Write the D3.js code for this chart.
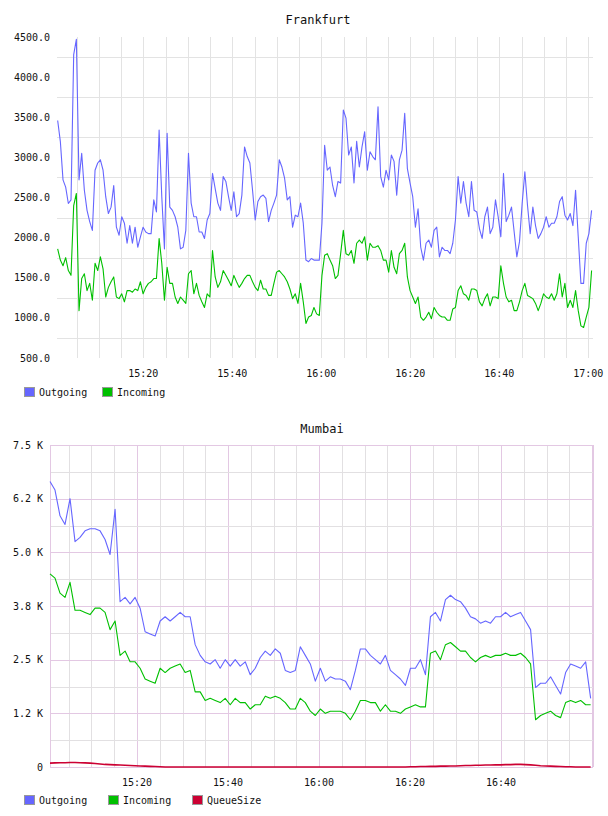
<!DOCTYPE html>
<html>
<head>
<meta charset="utf-8">
<script src="https://cdn.jsdelivr.net/npm/d3@7"></script>
<style>
    body { margin: 0; background: #ffffff; }
    svg text { font-family: "DejaVu Sans Mono", monospace; font-size: 10px; fill: #111; }
</style>
</head>
<body>
<svg id="chart" width="608" height="816"></svg>
<script>
// ---- Frankfurt data (one sample every 36 s) ----
const frankfurtStart = "15:00:45";
const frankfurtStepSeconds = 36;
const frankfurtOutgoing = [
    3460, 3200, 2720, 2630, 2425, 2470, 4280, 4470, 2720, 3050, 2590, 2340, 2200, 2090, 2840, 2930, 2970, 2840, 2510, 2300,
    2380, 2650, 2130, 2030, 2260, 2180, 1930, 2150, 1930, 2130, 1880, 2010, 2130, 2070, 2050, 2050, 2470, 2320, 3340, 2510,
    1860, 3300, 2380, 2340, 2260, 2130, 1860, 1880, 2090, 3050,
    2430, 2260, 2260, 2070, 2070, 1990, 2220, 2300, 2800, 2610, 2430, 2340, 2760, 2700, 2510, 2340, 2570, 2260, 2300, 2530,
    3130, 3010, 2930, 2590, 2220, 2450, 2510, 2530, 2490, 2200, 2340, 2430, 2530, 2970, 2880, 2740, 2470, 2510, 2130, 2280,
    2260, 2430, 2180, 1720, 1700, 1740, 1720, 1720, 1720, 2180, 3150,
    2840, 2880, 2650, 2510, 2700, 2680, 3590, 3490, 3030, 3130, 2680, 3200, 2880, 3130, 3320, 2840, 3070, 3010, 2970, 3630,
    2760, 2630, 2840, 2720, 3030, 2950, 2530, 2970, 3090, 3550, 2860, 2680, 2510, 2130, 2360, 1880, 1720, 1930, 1970, 1880,
    2090, 2130, 1760, 1880, 1840, 1840, 1800, 1930, 2220, 2760,
    2430, 2700, 2430, 2260, 2700, 2340, 2320, 2110, 1990, 2260, 2380, 2050, 2130, 2470, 2260, 2010, 2800, 2200, 2280, 2380,
    2070, 1760, 1950, 2430, 2820, 2400, 2050, 2380, 2150, 1990, 2050, 2130, 2260, 2130, 2180, 2180, 2260, 2450, 2510, 2280,
    2220, 2300, 2150, 2590, 2010, 1430, 1430, 1930, 2050, 2340
];
const frankfurtIncoming = [
    1860, 1720, 1650, 1750, 1590, 1530, 2400, 2550, 1090, 1490, 1550, 1340, 1430, 1220, 1680, 1590, 1760, 1610, 1260, 1380,
    1450, 1510, 1260, 1240, 1300, 1200, 1340, 1340, 1320, 1360, 1340, 1450, 1300, 1380, 1430, 1450, 1490, 1490, 1990, 1680,
    1220, 1630, 1430, 1430, 1260, 1180, 1260, 1220, 1180, 1550,
    1590, 1300, 1430, 1280, 1200, 1130, 1300, 1260, 1840, 1510, 1380, 1450, 1590, 1530, 1470, 1400, 1530, 1450, 1380, 1430,
    1490, 1530, 1530, 1450, 1380, 1340, 1470, 1360, 1360, 1280, 1280, 1430, 1570, 1590, 1550, 1510, 1450, 1360, 1240, 1300,
    1180, 1430, 1200, 930, 1010, 1030, 1130, 1050, 1030, 1530, 1780,
    1800, 1720, 1650, 1490, 1530, 1800, 2090, 1800, 1780, 1840, 1680, 1930, 1970, 1930, 2010, 1720, 1930, 1880, 1880, 1900,
    1840, 1720, 1720, 1570, 1840, 1630, 1550, 1800, 1840, 1930, 1510, 1340, 1260, 1180, 1260, 1010, 970, 1010, 1070, 990,
    1130, 1070, 1030, 1010, 1010, 970, 970, 1110, 1130, 1340,
    1400, 1300, 1280, 1220, 1360, 1360, 1340, 1200, 1150, 1240, 1300, 1150, 1260, 1260, 1240, 1650, 1430, 1260, 1200, 1220,
    1090, 1090, 1200, 1340, 1430, 1280, 1260, 1240, 1180, 1090, 1180, 1300, 1260, 1240, 1300, 1220, 1300, 1550, 1260, 1430,
    1130, 1220, 1130, 1340, 1090, 900, 880, 1010, 1130, 1590
];
const frankfurtYTicks = [500, 1000, 1500, 2000, 2500, 3000, 3500, 4000, 4500];
const frankfurtYGrid = [750, 1250, 1750, 2250, 2750, 3250, 3750, 4250];
const frankfurtXTicks = ["15:20", "15:40", "16:00", "16:20", "16:40", "17:00"];

// ---- Mumbai data (one sample every 66 s) ----
const mumbaiStart = "15:00:53";
const mumbaiStepSeconds = 66;
const mumbaiOutgoing = [
    6650, 6450, 5850, 5650, 6250, 5250, 5350, 5500, 5550, 5550, 5500, 5300, 4950, 6000, 3850, 3950, 3800, 3950, 3700, 3150,
    3100, 3050, 3400, 3500, 3400, 3500, 3600, 3500, 3500, 2850, 2600, 2450, 2400, 2500, 2300, 2500, 2350, 2500, 2350, 2450,
    2150, 2300, 2550, 2700, 2600, 2750, 2650, 2250, 2200, 2250, 2800, 2600, 2400, 2000, 2300, 2000, 2100, 2050, 2050, 2000,
    1800, 2250, 2750, 2750, 2600, 2500, 2400, 2600, 2250, 2150, 2050, 1900, 2300, 2300, 2500, 2150, 3500, 3600, 3400, 3900,
    4000, 3900, 3850, 3700, 3500, 3450, 3350, 3400, 3350, 3500, 3500, 3600, 3500, 3550, 3600, 3400, 3200, 1850, 1950, 1950,
    2100, 1900, 1700, 2200, 2400, 2350, 2300, 2450, 1600
];
const mumbaiIncoming = [
    4500, 4400, 4050, 3950, 4300, 3650, 3650, 3600, 3550, 3700, 3700, 3600, 3200, 3400, 2600, 2700, 2450, 2450, 2300, 2050,
    2000, 1950, 2300, 2200, 2300, 2350, 2400, 2200, 2250, 1750, 1750, 1550, 1600, 1550, 1500, 1600, 1450, 1600, 1500, 1500,
    1350, 1450, 1450, 1650, 1600, 1650, 1600, 1500, 1350, 1350, 1600, 1500, 1300, 1200, 1350, 1250, 1300, 1300, 1300, 1250,
    1100, 1300, 1550, 1550, 1500, 1500, 1300, 1450, 1300, 1300, 1250, 1350, 1400, 1450, 1400, 1400, 2650, 2700, 2500, 2850,
    2900, 2800, 2700, 2700, 2550, 2450, 2550, 2600, 2550, 2600, 2600, 2650, 2600, 2600, 2650, 2550, 2400, 1100, 1200, 1250,
    1300, 1200, 1150, 1500, 1550, 1500, 1550, 1450, 1450
];
const mumbaiQueueSize = [
    90, 95, 100, 100, 105, 105, 100, 95, 90, 80, 70, 60, 55, 50, 45, 40, 35, 30, 25, 20,
    15, 10, 5, 0, 0, 0, 0, 0, 0, 0, 0, 0, 0, 0, 0, 0, 0, 0, 0, 0,
    0, 0, 0, 0, 0, 0, 0, 0, 0, 0, 0, 0, 0, 0, 0, 0, 0, 0, 0, 0,
    0, 0, 0, 0, 0, 0, 0, 0, 0, 0, 0, 0, 5, 5, 10, 10, 15, 15, 20, 20,
    25, 25, 30, 35, 35, 40, 40, 45, 45, 50, 50, 55, 55, 60, 60, 55, 50, 40, 30, 25,
    20, 15, 10, 5, 5, 0, 0, 0, 0
];
const mumbaiYTicks = [0, 1250, 2500, 3750, 5000, 6250, 7500];
const mumbaiYTickLabels = ["0", "1.2 K", "2.5 K", "3.8 K", "5.0 K", "6.2 K", "7.5 K"];
const mumbaiYMinorGrid = [625, 1875, 3125, 4375, 5625, 6875];
const mumbaiXTicks = ["15:20", "15:40", "16:00", "16:20", "16:40"];

const colorOutgoing = "#6666ff";
const colorIncoming = "#00c000";
const colorQueue = "#cc0033";

let svg = d3.select("#chart");
let parseTime = d3.timeParse("%H:%M:%S");
let parseTick = d3.timeParse("%H:%M");

function seriesPoints(start, stepSeconds, values) {
    let t0 = parseTime(start);
    return values.map((v, i) => ({ time: d3.timeSecond.offset(t0, i * stepSeconds), value: v }));
}

function drawPanel(p) {
    let x = d3.scaleTime()
        .domain([parseTime(p.xStart), parseTime(p.xEnd)])
        .range([p.left, p.right]);
    let y = d3.scaleLinear()
        .domain(p.yDomain)
        .range([p.bottom, p.top]);

    let g = svg.append("g");
    let grid = g.append("g").attr("shape-rendering", "crispEdges");

    // vertical grid, every 5 minutes
    let minuteLines = d3.timeMinute.every(5).range(x.domain()[0], x.domain()[1]);
    grid.selectAll("line.vgrid")
        .data(minuteLines)
        .enter()
        .append("line")
        .attr("x1", d => Math.round(x(d)) + 0.5)
        .attr("x2", d => Math.round(x(d)) + 0.5)
        .attr("y1", p.top)
        .attr("y2", p.bottom)
        .style("stroke", d => (p.majorColor && d.getMinutes() % 20 === 0) ? p.majorColor : p.gridColor);

    // horizontal grid
    grid.selectAll("line.hgrid")
        .data(p.yGrid)
        .enter()
        .append("line")
        .attr("x1", p.left)
        .attr("x2", p.right)
        .attr("y1", d => Math.round(y(d)) + 0.5)
        .attr("y2", d => Math.round(y(d)) + 0.5)
        .style("stroke", p.gridColor);

    if (p.majorColor) {
        grid.selectAll("line.hmajor")
            .data(p.yTicks)
            .enter()
            .append("line")
            .attr("x1", p.left)
            .attr("x2", p.right)
            .attr("y1", d => Math.round(y(d)) + 0.5)
            .attr("y2", d => Math.round(y(d)) + 0.5)
            .style("stroke", p.majorColor);

        // left and right frame
        [p.left, p.right].forEach(px => {
            grid.append("line")
                .attr("x1", px + 0.5).attr("x2", px + 0.5)
                .attr("y1", p.top).attr("y2", p.bottom)
                .style("stroke", p.majorColor);
        });
    }

    // data lines
    let line = d3.line()
        .x(d => x(d.time))
        .y(d => y(d.value));

    p.series.forEach(s => {
        g.append("path")
            .datum(seriesPoints(p.start, p.step, s.values))
            .attr("fill", "none")
            .attr("stroke", s.color)
            .attr("stroke-width", s.width || 1.1)
            .attr("stroke-linejoin", "round")
            .attr("d", line);
    });

    // y labels
    g.selectAll("text.ylab")
        .data(p.yTicks)
        .enter()
        .append("text")
        .attr("x", p.left - 7)
        .attr("y", d => y(d))
        .attr("dy", "0.35em")
        .attr("text-anchor", "end")
        .text((d, i) => p.yLabels ? p.yLabels[i] : d3.format(".1f")(d));

    // x labels
    g.selectAll("text.xlab")
        .data(p.xTicks)
        .enter()
        .append("text")
        .attr("x", d => x(parseTick(d)))
        .attr("y", p.bottom + 15)
        .attr("dy", "0.35em")
        .attr("text-anchor", "middle")
        .text(d => d);

    // title
    g.append("text")
        .attr("x", p.titleX)
        .attr("y", p.titleY)
        .attr("dy", "0.35em")
        .attr("text-anchor", "middle")
        .style("font-size", "12px")
        .text(p.title);

    // legend
    let maxChars = d3.max(p.series, s => s.name.length);
    let itemWidth = 30 + maxChars * 6;
    let legend = g.selectAll("g.legend")
        .data(p.series)
        .enter()
        .append("g")
        .attr("transform", (s, i) => `translate(${24 + i * itemWidth},${p.legendY})`);
    legend.append("rect")
        .attr("x", 0.5)
        .attr("y", -4.5)
        .attr("width", 10)
        .attr("height", 9)
        .attr("fill", s => s.color)
        .attr("stroke", "#999");
    legend.append("text")
        .attr("x", 15)
        .attr("y", 0)
        .attr("dy", "0.35em")
        .text(s => s.name);
}

drawPanel({
    title: "Frankfurt", titleX: 318, titleY: 20,
    left: 57, right: 593, top: 37, bottom: 358,
    xStart: "15:00:36", xEnd: "17:01:04",
    yDomain: [500, 4500],
    yTicks: frankfurtYTicks,
    yGrid: frankfurtYGrid,
    xTicks: frankfurtXTicks,
    gridColor: "#e3e3e3",
    start: frankfurtStart, step: frankfurtStepSeconds,
    legendY: 392,
    series: [
        { name: "Outgoing", color: colorOutgoing, values: frankfurtOutgoing },
        { name: "Incoming", color: colorIncoming, values: frankfurtIncoming }
    ]
});

drawPanel({
    title: "Mumbai", titleX: 322, titleY: 429,
    left: 50, right: 593, top: 445, bottom: 767,
    xStart: "15:00:53", xEnd: "17:00:12",
    yDomain: [0, 7500],
    yTicks: mumbaiYTicks,
    yLabels: mumbaiYTickLabels,
    yGrid: mumbaiYMinorGrid,
    xTicks: mumbaiXTicks,
    gridColor: "#e2e0e2",
    majorColor: "#e3c8e3",
    start: mumbaiStart, step: mumbaiStepSeconds,
    legendY: 800,
    series: [
        { name: "Outgoing", color: colorOutgoing, values: mumbaiOutgoing },
        { name: "Incoming", color: colorIncoming, values: mumbaiIncoming },
        { name: "QueueSize", color: colorQueue, values: mumbaiQueueSize, width: 1.6 }
    ]
});
</script>
</body>
</html>
